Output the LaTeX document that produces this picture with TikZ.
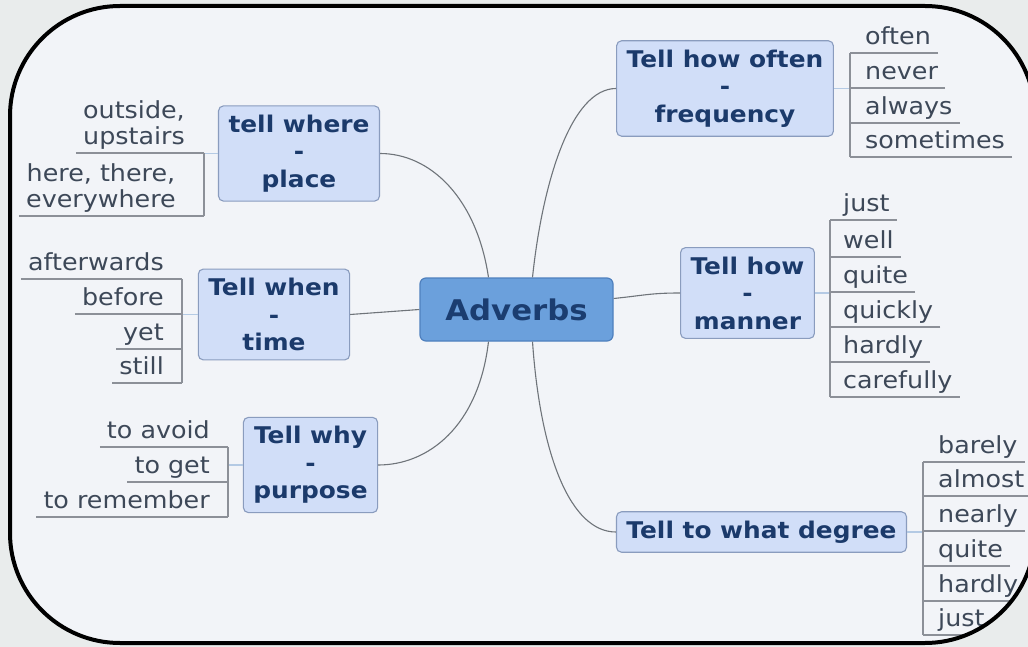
\documentclass[tikz,border=0pt]{standalone}
\usepackage{fontspec}
\usepackage{tikz}
\newfontfamily\mapfont{DejaVu Sans}[FakeStretch=1.08]
\definecolor{outside}{HTML}{E9ECEC}
\definecolor{inside}{HTML}{F2F4F8}
\definecolor{rootfill}{HTML}{6BA0DC}
\definecolor{rootline}{HTML}{4F80BE}
\definecolor{roottext}{HTML}{1B3D70}
\definecolor{topicfill}{HTML}{D1DEF8}
\definecolor{topicline}{HTML}{8A9CBE}
\definecolor{topictext}{HTML}{1B3A6B}
\definecolor{leaftext}{HTML}{3D4858}
\definecolor{rulegray}{HTML}{8C9098}
\definecolor{branchgray}{HTML}{6F747A}
\definecolor{linkblue}{HTML}{B4CAE4}
\tikzset{
    root-box/.style = {draw=rootline, fill=rootfill, line width=1.2pt, rounded corners=6pt, minimum width=193pt, minimum height=63pt, text=roottext, font=\mapfont\bfseries\fontsize{28.5}{34}\selectfont},
    topic-box/.style = {draw=topicline, fill=topicfill, line width=1.1pt, rounded corners=5pt, inner xsep=10pt, inner ysep=9pt, align=center, text=topictext, font=\mapfont\bfseries\fontsize{23}{27.5}\selectfont},
    leaf/.style = {inner xsep=7pt, inner ysep=3pt, align=center, text=leaftext, font=\mapfont\fontsize{23.5}{26}\selectfont},
    leaf-r/.style = {leaf, anchor=south west, text depth=5.5pt},
    leaf-l/.style = {leaf, anchor=south east, text depth=5.5pt},
    branch/.style = {draw=branchgray, line width=1.1pt},
    leaf-rule/.style = {draw=rulegray, line width=1.2pt},
    link/.style = {draw=linkblue, line width=1.6pt},
}

\begin{document}
\begin{tikzpicture}[x=1pt, y=-1pt]
\useasboundingbox (0,0) rectangle (1028,647);
\fill[outside] (0,0) rectangle (1028,647);
\fill[inside, rounded corners=110pt] (10,6) rectangle (1035,643);

% main topic and subtopics
\node[root-box] (adv) at (516.5,309.5) {Adverbs};
\node[topic-box] (where) at (299,153.5) {tell where\\-\\place};
\node[topic-box] (when) at (274,314.5) {Tell when\\-\\time};
\node[topic-box] (why) at (310.5,465) {Tell why\\-\\purpose};
\node[topic-box] (often) at (725,88.5) {Tell how often\\-\\frequency};
\node[topic-box] (how) at (747.5,293) {Tell how\\-\\manner};
\node[topic-box] (degree) at (761.5,532) {Tell to what degree};

\draw[branch] (where.east) .. controls +(50,0) and +(-12,-80) .. ([xshift=-28pt]adv.north);
\draw[branch] ([xshift=16pt]adv.north) .. controls +(10,-95) and +(-45,0) .. (often.west);
\draw[branch] (when.east) -- (adv.west);
\draw[branch] ([yshift=11pt]adv.east) .. controls +(30,-3) and +(-30,0) .. (how.west);
\draw[branch] ([xshift=-28pt]adv.south) .. controls +(-10,85) and +(50,0) .. (why.east);
\draw[branch] ([xshift=16pt]adv.south) .. controls +(8,115) and +(-45,0) .. (degree.west);

% where the leaves hang
\coordinate (plbar) at (204,153.5);
\coordinate (tibar) at (182,314.5);
\coordinate (pubar) at (228,465);
\coordinate (frbar) at (850,88.5);
\coordinate (mabar) at (830,293);
\coordinate (debar) at (923,532);
\draw[link] (where.west) -- (plbar);
\draw[link] (when.west) -- (tibar);
\draw[link] (why.west) -- (pubar);
\draw[link] (often.east) -- (frbar);
\draw[link] (how.east) -- (mabar);
\draw[link] (degree.east) -- (debar);

% place
\node[leaf, anchor=south east] (pl-out) at (192,153) {outside,\\upstairs};
\node[leaf, anchor=south east] (pl-here) at (183,216) {here, there,\\everywhere};
% time
\node[leaf-l] (ti-after) at (171,279) {afterwards};
\node[leaf-l] (ti-before) at (171,314) {before};
\node[leaf-l] (ti-yet) at (171,349) {yet};
\node[leaf-l] (ti-still) at (171,383) {still};
% purpose
\node[leaf-l] (pu-avoid) at (217,447) {to avoid};
\node[leaf-l] (pu-get) at (217,482) {to get};
\node[leaf-l] (pu-rem) at (217,517) {to remember};
% frequency
\node[leaf-r] (fr-often) at (858,53) {often};
\node[leaf-r] (fr-never) at (858,88) {never};
\node[leaf-r] (fr-always) at (858,123) {always};
\node[leaf-r] (fr-some) at (858,157) {sometimes};
% manner
\node[leaf-r] (ma-just) at (836,220) {just};
\node[leaf-r] (ma-well) at (836,257) {well};
\node[leaf-r] (ma-quite) at (836,292) {quite};
\node[leaf-r] (ma-quick) at (836,327) {quickly};
\node[leaf-r] (ma-hard) at (836,362) {hardly};
\node[leaf-r] (ma-care) at (836,397) {carefully};
% degree
\node[leaf-r] (de-barely) at (931,462) {barely};
\node[leaf-r] (de-almost) at (931,496) {almost};
\node[leaf-r] (de-nearly) at (931,531) {nearly};
\node[leaf-r] (de-quite) at (931,566) {quite};
\node[leaf-r] (de-hard) at (931,601) {hardly};
\node[leaf-r] (de-just) at (931,635) {just};

% underlines and brackets
\foreach \leaf in {pl-out,pl-here} \draw[leaf-rule] (\leaf.south west) -- (\leaf.south -| plbar);
\foreach \leaf in {ti-after,ti-before,ti-yet,ti-still} \draw[leaf-rule] (\leaf.south west) -- (\leaf.south -| tibar);
\foreach \leaf in {pu-avoid,pu-get,pu-rem} \draw[leaf-rule] (\leaf.south west) -- (\leaf.south -| pubar);
\foreach \leaf in {fr-often,fr-never,fr-always,fr-some} \draw[leaf-rule] (\leaf.south east) -- (\leaf.south -| frbar);
\foreach \leaf in {ma-just,ma-well,ma-quite,ma-quick,ma-hard,ma-care} \draw[leaf-rule] (\leaf.south east) -- (\leaf.south -| mabar);
\foreach \leaf in {de-barely,de-almost,de-nearly,de-quite,de-hard,de-just} \draw[leaf-rule] (\leaf.south east) -- (\leaf.south -| debar);
\draw[leaf-rule] (plbar |- pl-out.south) -- (plbar |- pl-here.south);
\draw[leaf-rule] (tibar |- ti-after.south) -- (tibar |- ti-still.south);
\draw[leaf-rule] (pubar |- pu-avoid.south) -- (pubar |- pu-rem.south);
\draw[leaf-rule] (frbar |- fr-often.south) -- (frbar |- fr-some.south);
\draw[leaf-rule] (mabar |- ma-just.south) -- (mabar |- ma-care.south);
\draw[leaf-rule] (debar |- de-barely.south) -- (debar |- de-just.south);

% frame on top
\fill[outside, even odd rule] (0,0) rectangle (1028,647) [rounded corners=110pt] (10,6) rectangle (1035,643);
\draw[line width=4pt, rounded corners=110pt] (10,6) rectangle (1035,643);
\end{tikzpicture}
\end{document}
